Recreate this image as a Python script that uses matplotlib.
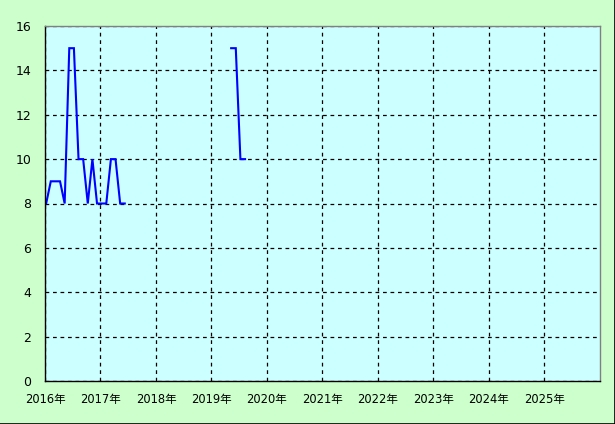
import matplotlib
matplotlib.use("Agg")
import matplotlib.pyplot as plt
import numpy as np
from matplotlib.lines import Line2D

plt.rcParams['font.family'] = ['DejaVu Sans', 'Noto Sans CJK JP']

# monthly series starting Jan 2016 (index 0)
months_a = list(range(0, 18))
values_a = [8, 9, 9, 9, 8, 15, 15, 10, 10, 8, 10, 8, 8, 8, 10, 10, 8, 8]
months_b = [40, 41, 42, 43]
values_b = [15, 15, 10, 10]

years = list(range(2016, 2026))
year_labels = [f"{y}年" for y in years]
y_ticks = list(range(0, 17, 2))

fig = plt.figure(figsize=(6.15, 4.24), dpi=100, facecolor='#ccffcc')
ax = fig.add_axes([45/615, (424-381)/424, 555/615, 355/424])
ax.set_facecolor('#ccffff')

xa = [2016 + (m + 0.25)/12 for m in months_a]
xb = [2016 + (m + 0.25)/12 for m in months_b]
ax.plot(xa, values_a, color='#0000ff', lw=1.5, solid_joinstyle='miter')
ax.plot(xb, values_b, color='#0000ff', lw=1.5, solid_joinstyle='miter')

ax.set_xlim(2016, 2026)
ax.set_ylim(0, 16)
ax.set_xticks(years)
ax.set_xticklabels(year_labels, fontsize=8.3, family=['DejaVu Sans', 'Noto Sans CJK JP'])
ax.set_yticks(y_ticks)
ax.set_yticklabels([str(v) for v in y_ticks], fontsize=9)
ax.tick_params(axis='both', length=0)
ax.tick_params(axis='x', pad=9)
ax.tick_params(axis='y', pad=10)
ax.grid(True, color='black', linestyle=(0, (3, 3)), lw=0.9)
for s in ['top', 'right']:
    ax.spines[s].set_color('#808080')
for s in ['left', 'bottom']:
    ax.spines[s].set_color('black')
for s in ax.spines.values():
    s.set_linewidth(1)

# figure border (right and bottom)
fig.add_artist(Line2D([0, 1], [0.5/424, 0.5/424], color='black', lw=1.2, transform=fig.transFigure))
fig.add_artist(Line2D([1-0.5/615, 1-0.5/615], [0, 1], color='black', lw=1.2, transform=fig.transFigure))

fig.savefig('out.png', dpi=100, facecolor=fig.get_facecolor())
